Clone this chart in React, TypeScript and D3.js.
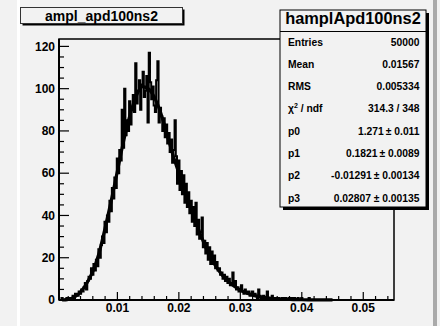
import React from "react";
import * as d3 from "d3";

const BIN_LOW = 0.0005;
const BIN_WIDTH = 0.0002;
const counts: number[] = [
  0, 0, 1, 0, 0, 0, 1, 0, 1, 0, 1, 2, 1, 3, 2, 2, 4, 3, 5, 4,
  6, 8, 5, 9, 11, 10, 15, 12, 17, 14, 19, 16, 24, 20, 26, 30, 27, 37, 32, 40,
  37, 47, 42, 53, 48, 58, 53, 67, 60, 71, 66, 90, 72, 100, 78, 85, 80, 94, 83, 90,
  97, 89, 112, 93, 99, 104, 90, 102, 108, 96, 99, 106, 84, 117, 103, 95, 101, 92, 89, 104,
  113, 84, 91, 87, 80, 86, 77, 83, 74, 79, 70, 76, 65, 71, 85, 68, 55, 66, 52, 61,
  50, 59, 46, 55, 44, 51, 41, 47, 37, 44, 35, 46, 31, 38, 29, 32, 39, 25, 28, 22,
  27, 19, 25, 17, 23, 17, 21, 15, 18, 14, 15, 12, 13, 10, 12, 9, 11, 8, 10, 7,
  8, 13, 7, 9, 5, 6, 4, 5, 7, 4, 3, 5, 4, 3, 4, 2, 3, 4, 2, 3,
  2, 1, 5, 2, 1, 1, 2, 1, 1, 4, 1, 0, 1, 2, 0, 1, 1, 0, 1, 0,
  0, 1, 0, 1, 1, 0, 0, 1, 0, 1, 0, 1, 0, 0, 1, 0, 0, 1, 0, 0,
  0, 0, 0, 1, 0, 0, 0, 0, 0, 0,
];

const fitX: number[] = [
  0.001, 0.002, 0.003, 0.004, 0.005, 0.006, 0.007, 0.008, 0.009, 0.01, 0.011, 0.012,
  0.013, 0.014, 0.015, 0.016, 0.017, 0.018, 0.019, 0.02, 0.021, 0.022, 0.023, 0.024,
  0.025, 0.026, 0.027, 0.028, 0.029, 0.03, 0.031, 0.032, 0.033, 0.034, 0.035, 0.036,
  0.037, 0.038, 0.039, 0.04, 0.041, 0.042, 0.043, 0.044, 0.045,
];
const fitY: number[] = [
  0.0, 0.3, 1.4, 3.8, 7.8, 13.5, 22, 34, 47, 61, 75, 87,
  96, 101, 100, 96, 89, 79, 69, 60, 51, 43, 35, 27.5,
  21, 16, 12, 8.8, 6.5, 4.7, 3.3, 2.3, 1.6, 1.1, 0.8, 0.55,
  0.38, 0.27, 0.19, 0.13, 0.09, 0.06, 0.04, 0.03, 0.02,
];

const xMajorTicks = [0.01, 0.02, 0.03, 0.04, 0.05];
const xTickLabels = ["0.01", "0.02", "0.03", "0.04", "0.05"];
const yMajorTicks = [0, 20, 40, 60, 80, 100, 120];

const histTitle = "ampl_apd100ns2";
const statsTitle = "hamplApd100ns2";
const statLabels = ["Entries", "Mean", "RMS", "CHI", "p0", "p1", "p2", "p3"];
const statValues = [
  "50000",
  "0.01567",
  "0.005334",
  "314.3 / 348",
  "1.271\u2009± 0.011",
  "0.1821\u2009± 0.0089",
  "-0.01291\u2009± 0.00134",
  "0.02807 ± 0.00135",
];

const BG = "#f2f2f2";
const FONT = "'Liberation Sans', Arial, Helvetica, sans-serif";

export default function App() {
  const W = 440;
  const H = 326;
  const left = 59, right = 394, top = 39, bottom = 300;
  const x = d3.scaleLinear().domain([0.0005, 0.055]).range([left, right]);
  const y = d3.scaleLinear().domain([0, 123.5]).range([bottom, top]);

  const edges = counts.map((_, i) => BIN_LOW + i * BIN_WIDTH);
  const stepPts: [number, number][] = [[BIN_LOW, 0]];
  counts.forEach((c, i) => {
    stepPts.push([edges[i], c]);
    stepPts.push([edges[i] + BIN_WIDTH, c]);
  });
  stepPts.push([BIN_LOW + counts.length * BIN_WIDTH, 0]);
  const histPath = d3
    .line<[number, number]>()
    .x((d) => x(d[0]))
    .y((d) => y(d[1]))(stepPts) as string;

  const fitPath = d3
    .line<number>()
    .x((d) => x(d))
    .y((_, i) => y(fitY[i]))
    .curve(d3.curveMonotoneX)(fitX) as string;

  const xMinor = d3.range(1, 28).map((k) => k * 0.002).filter((v) => v >= 0.0005 && v <= 0.055);
  const yMinor = d3.range(0, 25).map((k) => k * 5).filter((v) => v <= 123.5);

  const sbX = 280, sbY = 10, sbW = 146, sbH = 197;

  return (
    <svg width={W} height={H} style={{ position: "absolute", left: 0, top: 0 }} fontFamily={FONT}>
      <rect x={0} y={0} width={W} height={H} fill={BG} />
      <rect x={17} y={0} width={3} height={H} fill="#ffffff" />
      <rect x={433} y={0} width={4} height={H} fill="#aaaaaa" />

      {/* frame */}
      <rect x={left} y={top} width={right - left} height={bottom - top} fill="none" stroke="#000" strokeWidth={1.5} />

      {/* histogram */}
      <path d={histPath} fill="none" stroke="#000" strokeWidth={2} />
      <path d={fitPath} fill="none" stroke="#000" strokeWidth={3.2} />

      {/* axes */}
      <line x1={left} x2={right} y1={bottom} y2={bottom} stroke="#000" strokeWidth={2} />
      <line x1={left} x2={left} y1={top} y2={bottom} stroke="#000" strokeWidth={2} />
      {xMinor.map((v) => {
        const major = xMajorTicks.some((m) => Math.abs(m - v) < 1e-9);
        return (
          <line key={"xt" + v} x1={x(v)} x2={x(v)} y1={bottom} y2={bottom - (major ? 8 : 4)} stroke="#000" strokeWidth={1.2} />
        );
      })}
      {yMinor.map((v) => {
        const major = v % 20 === 0;
        return (
          <line key={"yt" + v} x1={left} x2={left + (major ? 10 : 5)} y1={y(v)} y2={y(v)} stroke="#000" strokeWidth={1.2} />
        );
      })}
      {xMajorTicks.map((v, i) => (
        <text key={"xl" + v} x={x(v)} y={312} textAnchor="middle" fontSize={12} fontWeight="bold" fill="#000">
          {xTickLabels[i]}
        </text>
      ))}
      {yMajorTicks.map((v) => (
        <text key={"yl" + v} x={55} y={y(v) + 4.3} textAnchor="end" fontSize={12} fontWeight="bold" fill="#000">
          {v}
        </text>
      ))}

      {/* title box */}
      <rect x={22.5} y={9.5} width={162} height={16} fill="#000" />
      <rect x={20.5} y={7.5} width={162} height={16} fill={BG} stroke="#333" strokeWidth={1} />
      <text x={101.5} y={20.5} textAnchor="middle" fontSize={14} fontWeight="bold" fill="#000">
        {histTitle}
      </text>

      {/* stats box */}
      <rect x={sbX + 3} y={sbY + 3} width={sbW} height={sbH} fill="#000" />
      <rect x={sbX} y={sbY} width={sbW} height={sbH} fill={BG} stroke="#000" strokeWidth={1} />
      <line x1={sbX} x2={sbX + sbW} y1={31.5} y2={31.5} stroke="#000" strokeWidth={1} />
      <text x={sbX + sbW / 2} y={23.5} textAnchor="middle" fontSize={16.4} fontWeight="bold" fill="#000">
        {statsTitle}
      </text>
      {statLabels.map((lab, i) => {
        const by = 45.5 + i * 22.3;
        return (
          <g key={"st" + i}>
            {lab === "CHI" ? (
              <text x={288} y={by} fontSize={10.3} fontWeight="bold" fill="#000">
                χ<tspan fontSize={7} dy={-4}>2</tspan>
                <tspan dy={4}> / ndf</tspan>
              </text>
            ) : (
              <text x={288} y={by} fontSize={10.3} fontWeight="bold" fill="#000">
                {lab}
              </text>
            )}
            <text x={419.5} y={by} textAnchor="end" fontSize={10.3} fontWeight="bold" fill="#000">
              {statValues[i]}
            </text>
          </g>
        );
      })}
    </svg>
  );
}
